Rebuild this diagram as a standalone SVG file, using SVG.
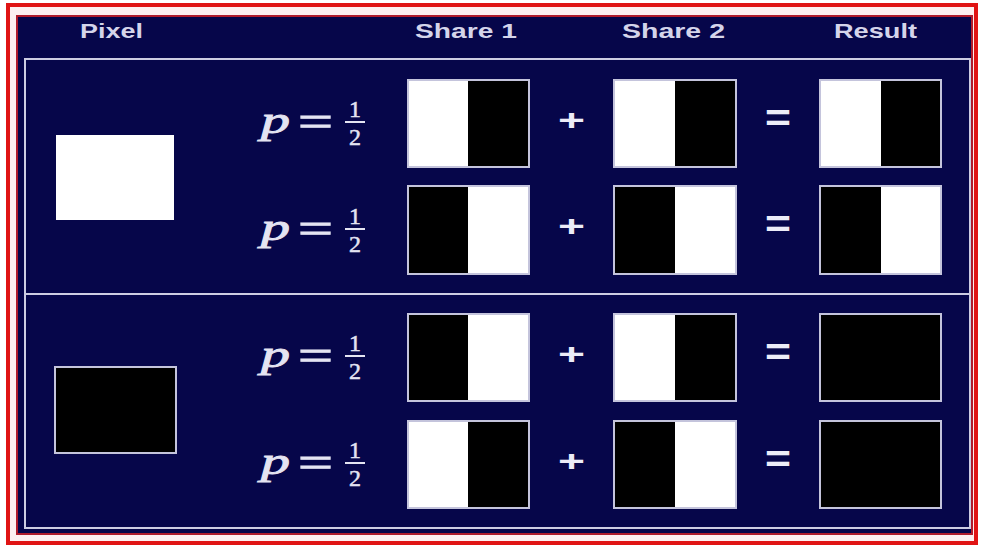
<svg xmlns="http://www.w3.org/2000/svg" width="981" height="547" viewBox="0 0 981 547">
<style>
.hdr{font-family:"Liberation Sans",Arial,sans-serif;font-weight:bold;font-size:21px;fill:#d4d4ea}
.box{stroke:#c4c4dc;stroke-width:2}
.w{fill:#ffffff}
.b{fill:#000000}
.pv{font-family:"Liberation Serif","Times New Roman",serif;font-style:italic;font-size:38px;fill:#e4e4f2;stroke:#e4e4f2;stroke-width:0.9}
.eq{font-family:"Liberation Serif","Times New Roman",serif;font-size:44px;fill:#e4e4f2;stroke:#e4e4f2;stroke-width:1}
.fr{font-family:"Liberation Serif","Times New Roman",serif;font-size:24px;fill:#e4e4f2;stroke:#e4e4f2;stroke-width:0.5;text-anchor:middle}
.bar{stroke:#e4e4f2;stroke-width:2}
.op{font-family:"Liberation Sans",Arial,sans-serif;font-weight:bold;fill:#ececf8}
</style>
<rect x="0" y="0" width="981" height="547" fill="#ffffff"/>
<g id="frame">
<rect x="8" y="5" width="968" height="538" fill="#fdf0f0" stroke="#e01414" stroke-width="4"/>
<rect x="17" y="16" width="955" height="518" fill="#06064a" stroke="#b01c2c" stroke-width="2"/>
<rect x="25" y="59" width="945" height="469" fill="none" stroke="#ccccE2" stroke-width="2"/>
<line x1="25" y1="294" x2="970" y2="294" stroke="#ccccE2" stroke-width="2"/>
</g>
<g id="headers">
<text class="hdr" x="80" y="38" textLength="63" lengthAdjust="spacingAndGlyphs">Pixel</text>
<text class="hdr" x="415" y="38" textLength="102" lengthAdjust="spacingAndGlyphs">Share 1</text>
<text class="hdr" x="622" y="38" textLength="103" lengthAdjust="spacingAndGlyphs">Share 2</text>
<text class="hdr" x="834" y="38" textLength="83" lengthAdjust="spacingAndGlyphs">Result</text>
</g>
<g id="pixel-white"><rect x="56" y="135" width="118" height="85" class="w"/></g>
<g id="pixel-black"><rect x="55" y="367" width="121" height="86" class="b box"/></g>
<g id="row1">
<text class="pv" x="261" y="133" textLength="29" lengthAdjust="spacingAndGlyphs">p</text>
<text class="eq" x="298" y="136" textLength="35" lengthAdjust="spacingAndGlyphs">=</text>
<text class="fr" x="355" y="117">1</text><line x1="345" y1="122" x2="365" y2="122" class="bar"/><text class="fr" x="355" y="145">2</text>
<rect x="408" y="80" width="121" height="87" class="w box"/><rect x="468" y="81" width="60" height="85" class="b"/>
<text class="op" x="558" y="130" font-size="30" textLength="27" lengthAdjust="spacingAndGlyphs">+</text>
<rect x="614" y="80" width="122" height="87" class="w box"/><rect x="675" y="81" width="60" height="85" class="b"/>
<text class="op" x="765" y="131" font-size="38" textLength="26" lengthAdjust="spacingAndGlyphs">=</text>
<rect x="820" y="80" width="121" height="87" class="w box"/><rect x="881" y="81" width="59" height="85" class="b"/>
</g>
<g id="row2">
<text class="pv" x="261" y="240" textLength="29" lengthAdjust="spacingAndGlyphs">p</text>
<text class="eq" x="298" y="243" textLength="35" lengthAdjust="spacingAndGlyphs">=</text>
<text class="fr" x="355" y="224">1</text><line x1="345" y1="229" x2="365" y2="229" class="bar"/><text class="fr" x="355" y="252">2</text>
<rect x="408" y="186" width="121" height="88" class="w box"/><rect x="409" y="187" width="59" height="86" class="b"/>
<text class="op" x="558" y="236" font-size="30" textLength="27" lengthAdjust="spacingAndGlyphs">+</text>
<rect x="614" y="186" width="122" height="88" class="w box"/><rect x="615" y="187" width="60" height="86" class="b"/>
<text class="op" x="765" y="237" font-size="38" textLength="26" lengthAdjust="spacingAndGlyphs">=</text>
<rect x="820" y="186" width="121" height="88" class="w box"/><rect x="821" y="187" width="60" height="86" class="b"/>
</g>
<g id="row3">
<text class="pv" x="261" y="367" textLength="29" lengthAdjust="spacingAndGlyphs">p</text>
<text class="eq" x="298" y="370" textLength="35" lengthAdjust="spacingAndGlyphs">=</text>
<text class="fr" x="355" y="351">1</text><line x1="345" y1="356" x2="365" y2="356" class="bar"/><text class="fr" x="355" y="379">2</text>
<rect x="408" y="314" width="121" height="87" class="w box"/><rect x="409" y="315" width="59" height="85" class="b"/>
<text class="op" x="558" y="364" font-size="30" textLength="27" lengthAdjust="spacingAndGlyphs">+</text>
<rect x="614" y="314" width="122" height="87" class="w box"/><rect x="675" y="315" width="60" height="85" class="b"/>
<text class="op" x="765" y="365" font-size="38" textLength="26" lengthAdjust="spacingAndGlyphs">=</text>
<rect x="820" y="314" width="121" height="87" class="b box"/>
</g>
<g id="row4">
<text class="pv" x="261" y="474" textLength="29" lengthAdjust="spacingAndGlyphs">p</text>
<text class="eq" x="298" y="477" textLength="35" lengthAdjust="spacingAndGlyphs">=</text>
<text class="fr" x="355" y="458">1</text><line x1="345" y1="463" x2="365" y2="463" class="bar"/><text class="fr" x="355" y="486">2</text>
<rect x="408" y="421" width="121" height="87" class="w box"/><rect x="468" y="422" width="60" height="85" class="b"/>
<text class="op" x="558" y="471" font-size="30" textLength="27" lengthAdjust="spacingAndGlyphs">+</text>
<rect x="614" y="421" width="122" height="87" class="w box"/><rect x="615" y="422" width="60" height="85" class="b"/>
<text class="op" x="765" y="472" font-size="38" textLength="26" lengthAdjust="spacingAndGlyphs">=</text>
<rect x="820" y="421" width="121" height="87" class="b box"/>
</g>
<g id="connectors"></g>
</svg>
